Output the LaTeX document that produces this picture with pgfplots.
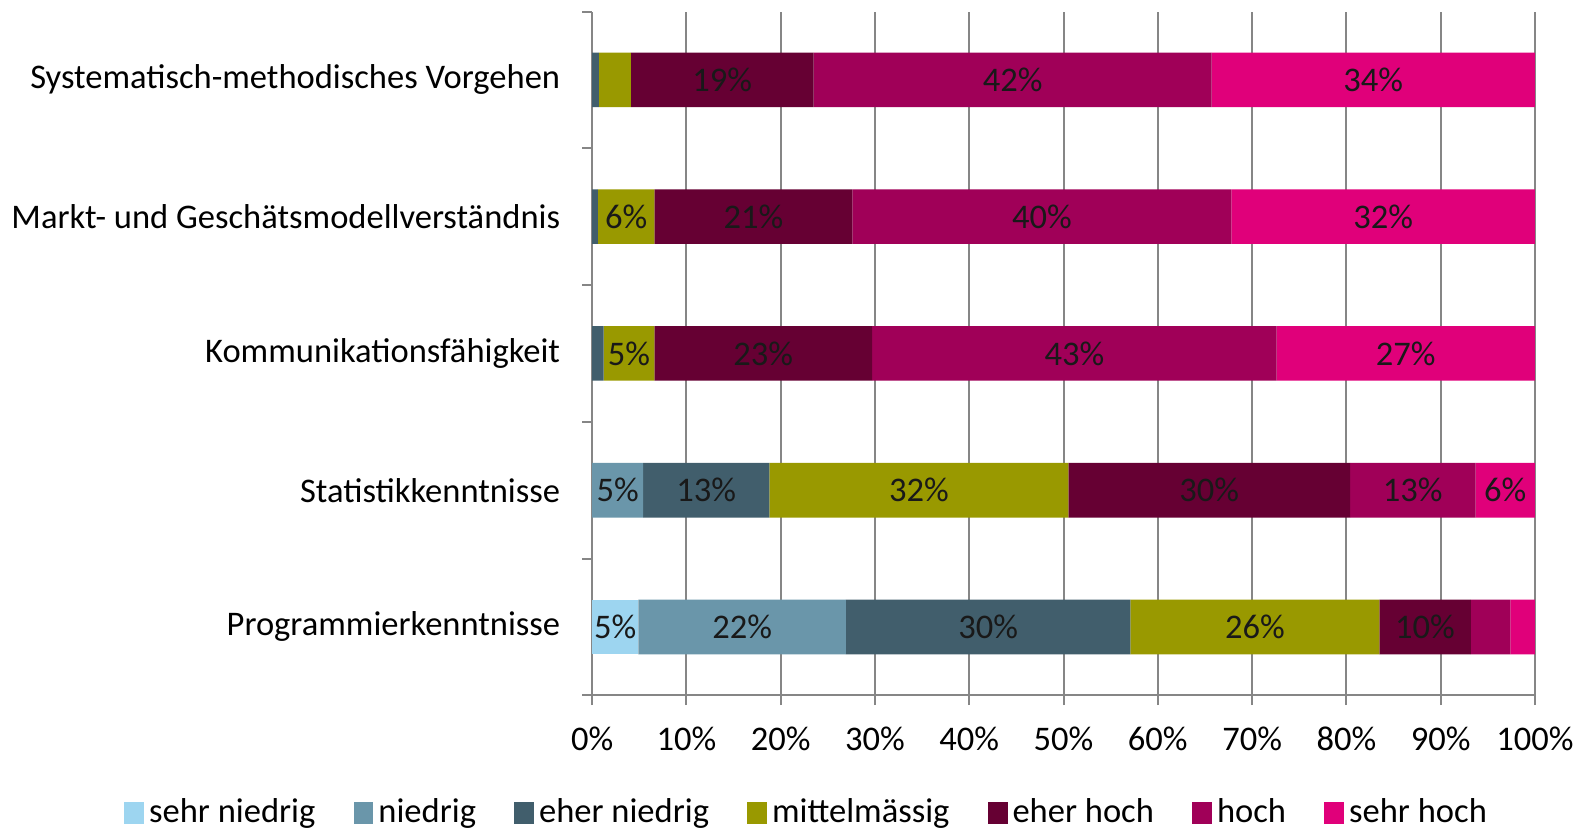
\documentclass[border=0pt]{standalone}
\usepackage{pgfplots}
\usepackage{pgfplotstable}
\pgfplotsset{compat=1.18}
\usepackage{fontspec}
\setmainfont{Carlito}

\definecolor{sehrniedrig}{RGB}{157,213,240}
\definecolor{niedrig}{RGB}{106,150,170}
\definecolor{eherniedrig}{RGB}{65,94,108}
\definecolor{mittel}{RGB}{153,153,0}
\definecolor{eherhoch}{RGB}{102,0,51}
\definecolor{hoch}{RGB}{160,0,88}
\definecolor{sehrhoch}{RGB}{224,0,122}
\definecolor{gridgray}{RGB}{134,134,134}

% cat: 0 Programmier ... 4 Systematisch
\pgfplotstableread{
cat sn   n    en   m    eh   h    sh
0   4.9  22.0 30.2 26.4 9.7  4.2  2.6
1   0    5.4  13.4 31.7 29.9 13.3 6.3
2   0    0    1.2  5.4  23.1 42.9 27.4
3   0    0    0.6  6.0  21.0 40.2 32.2
4   0    0    0.7  3.4  19.4 42.2 34.3
}\data

\begin{document}
\fontsize{10.4}{12}\selectfont
\begin{tikzpicture}
\begin{axis}[
  name=ax,
  xbar stacked,
  scale only axis,
  width=284pt, height=206pt,
  xmin=0, xmax=100, ymin=-0.5, ymax=4.5,
  bar width=0.4,
  axis lines=left,
  axis line style={-, gridgray, line width=0.6pt},
  xtick={0,10,...,100},
  xticklabel={\pgfmathprintnumber{\tick}\%},
  /pgf/number format/assume math mode=true,
  xmajorgrids=true,
  major grid style={gridgray, line width=0.6pt},
  tick style={gridgray, line width=0.6pt},
  tick align=outside,
  major tick length=3pt,
  xticklabel style={yshift=-3pt},
  ytick={-0.5,0.5,...,4.5},
  yticklabels={},
  extra y ticks={0,1,2,3,4},
  extra y tick labels={Programmierkenntnisse,Statistikkenntnisse,Kommunikationsfähigkeit,Markt- und Geschätsmodellverständnis,Systematisch-methodisches Vorgehen},
  extra y tick style={major tick length=0pt, yticklabel style={xshift=-6pt}},
  visualization depends on=rawx \as \rawx,
  nodes near coords={\pgfmathparse{\rawx>4.5}\ifdim\pgfmathresult pt>0.5pt\pgfmathprintnumber[fixed,precision=0]{\rawx}\%\fi},
  every node near coord/.append style={anchor=center, text=black!90},
  legend style={at={(0.229,-0.172)}, anchor=center, draw=none, legend columns=-1,
    /tikz/every even column/.append style={column sep=10pt},
    nodes={inner sep=1.5pt}},
  legend image code/.code={\fill[#1] (0pt,-3.3pt) rectangle (6pt,3.3pt);},
]
\addplot[fill=sehrniedrig, draw=none] table[x=sn, y=cat]{\data};
\addplot[fill=niedrig, draw=none] table[x=n, y=cat]{\data};
\addplot[fill=eherniedrig, draw=none] table[x=en, y=cat]{\data};
\addplot[fill=mittel, draw=none] table[x=m, y=cat]{\data};
\addplot[fill=eherhoch, draw=none] table[x=eh, y=cat]{\data};
\addplot[fill=hoch, draw=none] table[x=h, y=cat]{\data};
\addplot[fill=sehrhoch, draw=none] table[x=sh, y=cat]{\data};
\legend{sehr niedrig, niedrig, eher niedrig, mittelmässig, eher hoch, hoch, sehr hoch}
\end{axis}
\path (ax.south west) ++(-177pt,-40.5pt);
\path (ax.north east) ++(14.4pt,3pt);
\end{tikzpicture}
\end{document}
